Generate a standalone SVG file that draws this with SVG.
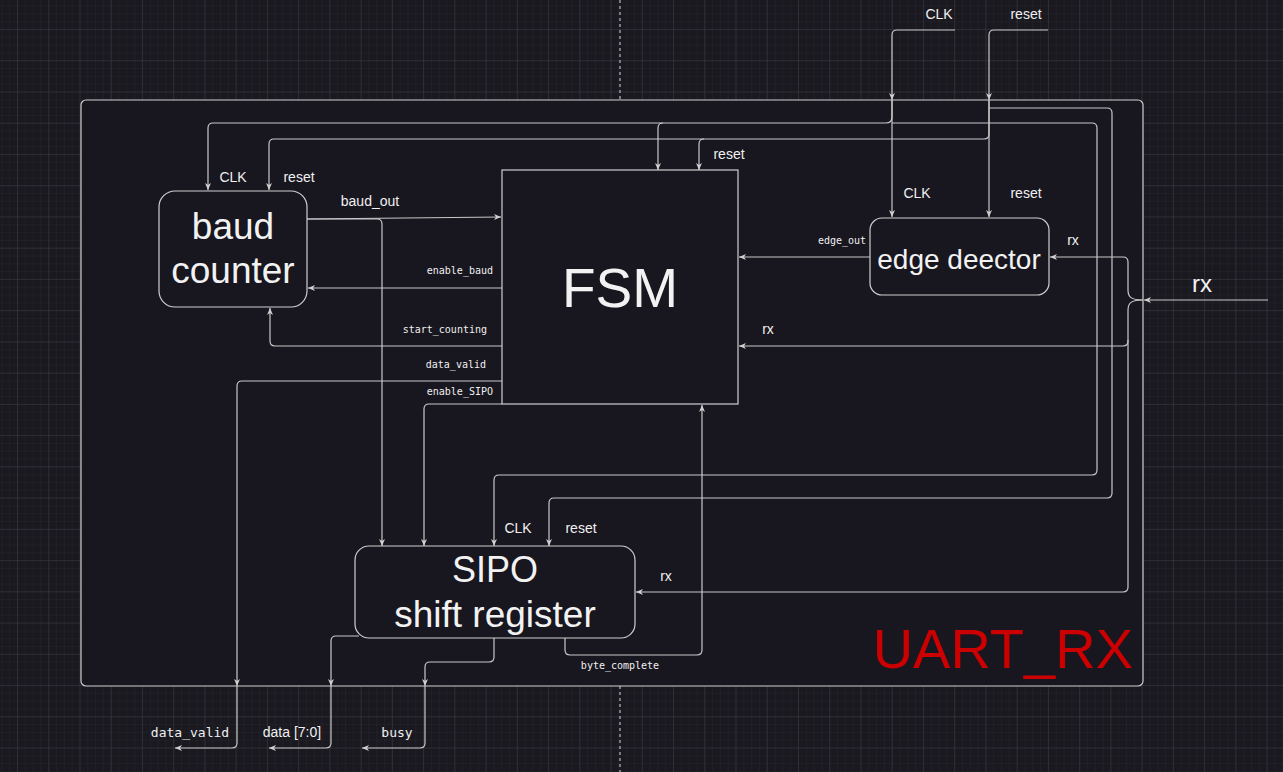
<svg xmlns="http://www.w3.org/2000/svg" width="1283" height="772" viewBox="0 0 1283 772">
<defs>
<pattern id="minor" patternUnits="userSpaceOnUse" x="17" y="29" width="7.81" height="7.81">
<path d="M0,0 H7.81 M0,0 V7.81" stroke="#26252c" stroke-width="1" fill="none"/>
</pattern>
<pattern id="major" patternUnits="userSpaceOnUse" x="17" y="29" width="31.24" height="31.24">
<path d="M0,0 H31.24 M0,0 V31.24" stroke="#3b3a41" stroke-width="1" fill="none"/>
</pattern>
<marker id="arr" markerWidth="8" markerHeight="8" refX="7" refY="4" orient="auto" markerUnits="userSpaceOnUse">
<path d="M0,1 L7,4 L0,7 L2,4 z" fill="#d0d0d0"/>
</marker>
</defs>
<style>
.e{fill:none;stroke:#c8c8c8;stroke-width:1.2}
.a{marker-end:url(#arr)}
.n{fill:#18161f;stroke:#cfcfcf;stroke-width:1.2}
.t{font-family:"Liberation Sans",Arial,sans-serif;fill:#f2f2f2;text-anchor:middle}
.s{font-family:"Liberation Sans",Arial,sans-serif;fill:#f0f0f0;font-size:14px;text-anchor:middle}
.m{font-family:"DejaVu Sans Mono","Liberation Mono",monospace;fill:#f0f0f0;font-size:10px}
.mb{font-family:"DejaVu Sans Mono","Liberation Mono",monospace;fill:#f0f0f0;font-size:13px;text-anchor:middle}
</style>
<rect width="1283" height="772" fill="#1a1920"/>
<rect width="1283" height="772" fill="url(#minor)"/>
<rect width="1283" height="772" fill="url(#major)"/>
<path d="M620,0 V100 M620,686 V772" stroke="#d8d8d8" stroke-width="1" stroke-dasharray="3,3"/>

<g id="container">
<rect x="81" y="100" width="1062" height="586" rx="5" fill="#18161f" stroke="#cfcfcf" stroke-width="1.2"/>
<text x="1133" y="668" font-family="Liberation Sans,Arial,sans-serif" font-size="56" fill="#cc0000" text-anchor="end">UART_RX</text>
</g>

<g id="edges">
<path class="e a" d="M955,30 H897 Q892,30 892,35 V100"/>
<path class="e a" d="M892,100 V217"/>
<path class="e a" d="M892,100 V117 Q892,123 886,123 H213 Q208,123 208,128 V190"/>
<path class="e a" d="M663,123 Q658,123 658,128 V170"/>
<path class="e a" d="M892,123 H1092 Q1097,123 1097,128 V470 Q1097,475 1092,475 H499 Q494,475 494,480 V546"/>
<path class="e a" d="M1048,30 H994 Q989,30 989,35 V100"/>
<path class="e a" d="M989,100 V217"/>
<path class="e a" d="M989,100 V134 Q989,139 984,139 H274 Q269,139 269,144 V190"/>
<path class="e a" d="M704,139 Q699,139 699,144 V170"/>
<path class="e a" d="M989,108 H1107 Q1112,108 1112,113 V493 Q1112,498 1107,498 H554 Q549,498 549,503 V546"/>
<path class="e a" d="M1268,300 H1144"/>
<path class="e a" d="M1143,300 C1131,300 1128,297 1128,290 V262 Q1128,257 1123,257 H1050"/>
<path class="e a" d="M1143,300 C1131,300 1128,303 1128,310 V341 Q1128,346 1123,346 H739"/>
<path class="e a" d="M1128,340 V587 Q1128,592 1123,592 H636"/>
<path class="e a" d="M870,257 H739"/>
<path class="e a" d="M307,219 L501,217"/>
<path class="e a" d="M307,219 H377 Q382,219 382,224 V546"/>
<path class="e a" d="M502,288 H308"/>
<path class="e a" d="M502,346 H275 Q270,346 270,341 V308"/>
<path class="e a" d="M502,381 H242 Q237,381 237,386 V686"/>
<path class="e a" d="M237,686 V743 Q237,748 232,748 H175"/>
<path class="e a" d="M502,404 H429 Q424,404 424,409 V546"/>
<path class="e a" d="M359,636 H336 Q331,636 331,641 V686"/>
<path class="e a" d="M331,686 V743 Q331,748 326,748 H269"/>
<path class="e a" d="M494,638 V657 Q494,662 489,662 H430 Q425,662 425,667 V686"/>
<path class="e a" d="M425,686 V743 Q425,748 420,748 H362"/>
<path class="e a" d="M565,638 V650 Q565,655 570,655 H697 Q702,655 702,650 V405"/>
</g>

<g id="labels">
<text class="s" x="939" y="19">CLK</text>
<text class="s" x="1026" y="19">reset</text>
<text class="s" x="233" y="182">CLK</text>
<text class="s" x="299" y="182">reset</text>
<text class="s" x="370" y="206">baud_out</text>
<text class="s" x="729" y="159">reset</text>
<text class="s" x="917" y="198">CLK</text>
<text class="s" x="1026" y="198">reset</text>
<text class="m" x="842" y="244" text-anchor="middle">edge_out</text>
<text class="s" x="1073" y="245" font-size="13">rx</text>
<text class="s" x="768" y="334" font-size="13">rx</text>
<text class="t" x="1202" y="292" font-size="24">rx</text>
<text class="m" x="493" y="274" text-anchor="end">enable_baud</text>
<text class="m" x="487" y="333" text-anchor="end">start_counting</text>
<text class="m" x="486" y="368" text-anchor="end">data_valid</text>
<text class="m" x="493" y="395" text-anchor="end">enable_SIPO</text>
<text class="s" x="518" y="533">CLK</text>
<text class="s" x="581" y="533">reset</text>
<text class="s" x="666" y="581" font-size="13">rx</text>
<text class="m" x="620" y="669" text-anchor="middle">byte_complete</text>
<text class="mb" x="190" y="737">data_valid</text>
<text class="s" x="292" y="737">data [7:0]</text>
<text class="mb" x="397" y="737">busy</text>
</g>

<g id="baud_counter">
<rect class="n" x="159" y="191" width="148" height="116" rx="16"/>
<text class="t" x="233" y="239" font-size="37">baud</text>
<text class="t" x="233" y="283" font-size="37">counter</text>
</g>
<g id="fsm">
<rect class="n" x="502" y="170" width="236" height="234"/>
<text class="t" x="620" y="307" font-size="55">FSM</text>
</g>
<g id="edge_detector">
<rect class="n" x="870" y="218" width="179" height="77" rx="12"/>
<text class="t" x="959" y="269" font-size="28">edge deector</text>
</g>
<g id="sipo">
<rect class="n" x="355" y="546" width="280" height="92" rx="14"/>
<text class="t" x="495" y="582" font-size="36">SIPO</text>
<text class="t" x="495" y="627" font-size="37">shift register</text>
</g>
</svg>
